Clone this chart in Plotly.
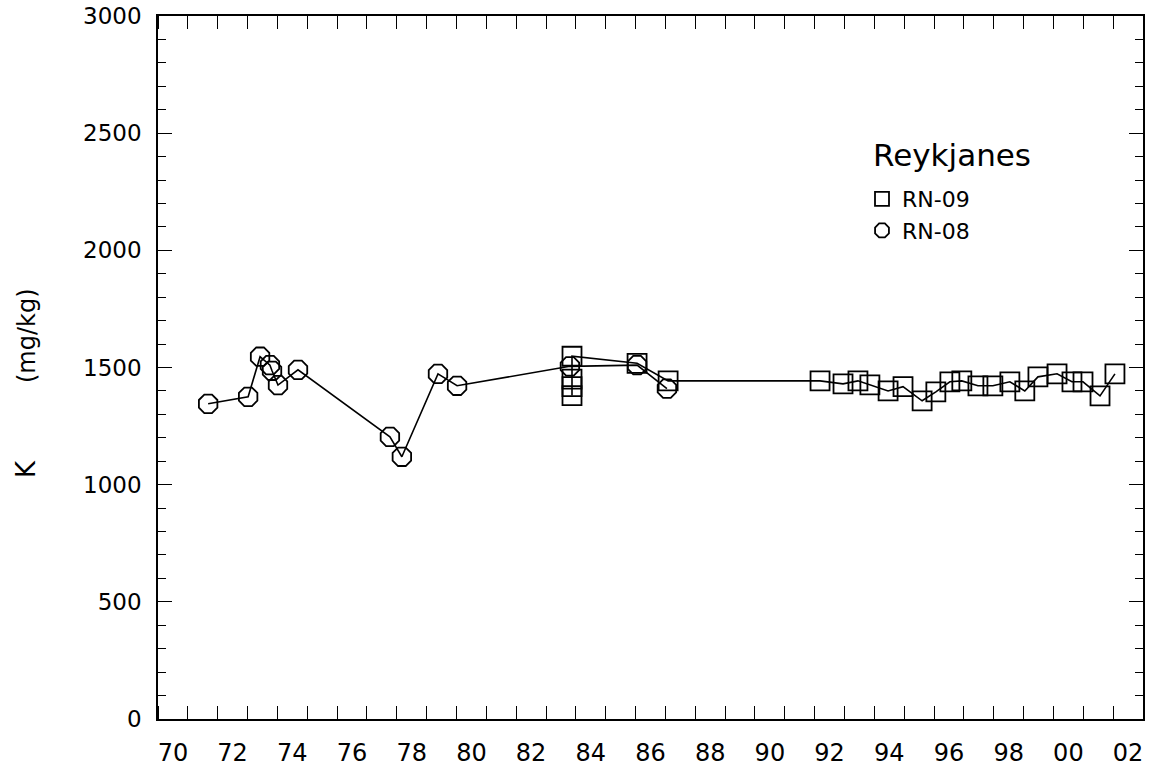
import plotly.graph_objects as go

# RN-08 (circles): decimal year (years since 1900), K mg/kg
rn08_year = [71.18, 72.52, 72.92, 73.25, 73.32, 73.52, 74.19, 77.27, 77.67, 78.88, 79.52,
             83.30, 85.55, 86.55]
rn08_k = [1345, 1375, 1546, 1510, 1486, 1425, 1490, 1204, 1119, 1473, 1422,
          1505, 1510, 1410]

# RN-09 (squares)
rn09_year = [83.37, 83.37, 83.37, 83.37, 85.55, 86.59, 91.68, 92.45, 92.95, 93.35, 93.96,
             94.46, 95.10, 95.56, 96.03, 96.43, 96.97, 97.47, 98.04, 98.54, 98.98,
             99.62, 100.12, 100.49, 101.06, 101.56]
rn09_k = [1380, 1418, 1450, 1548, 1518, 1443, 1443, 1430, 1443, 1426, 1400,
          1418, 1358, 1396, 1439, 1443, 1422, 1422, 1439, 1400, 1460,
          1473, 1439, 1439, 1379, 1473]

x_tick_vals = list(range(70, 103, 2))
x_tick_text = ["70", "72", "74", "76", "78", "80", "82", "84", "86", "88", "90",
               "92", "94", "96", "98", "00", "02"]
y_tick_vals = [0, 500, 1000, 1500, 2000, 2500, 3000]

FONT = "DejaVu Sans"
BLACK = "#000000"
W, H = 1158, 774
ML, MR, MT, MB = 158, 15, 16, 55
PW, PH = W - ML - MR, H - MT - MB


def px_x(p):
    return (p - ML) / PW


def px_y(p):
    return 1 - (p - MT) / PH


fig = go.Figure()

fig.add_trace(go.Scatter(
    x=rn09_year, y=rn09_k, mode="lines+markers", showlegend=False,
    line=dict(color=BLACK, width=1.6),
    marker=dict(symbol="square-open", size=19, color=BLACK, line=dict(width=1.8, color=BLACK)),
))
fig.add_trace(go.Scatter(
    x=rn08_year, y=rn08_k, mode="lines+markers", showlegend=False,
    line=dict(color=BLACK, width=1.6),
    marker=dict(symbol="octagon-open", size=20, color=BLACK, line=dict(width=1.8, color=BLACK)),
))
# legend-only entries
fig.add_trace(go.Scatter(
    x=[None], y=[None], mode="markers", name="RN-09",
    marker=dict(symbol="square-open", size=14, color=BLACK, line=dict(width=1.8, color=BLACK)),
))
fig.add_trace(go.Scatter(
    x=[None], y=[None], mode="markers", name="RN-08",
    marker=dict(symbol="octagon-open", size=15, color=BLACK, line=dict(width=1.8, color=BLACK)),
))

fig.update_layout(
    width=W, height=H,
    margin=dict(l=ML, r=MR, t=MT, b=MB),
    paper_bgcolor="white", plot_bgcolor="white",
    font=dict(family=FONT, color=BLACK, size=22),
    showlegend=True,
    legend=dict(
        x=px_x(862), y=px_y(178), xanchor="left", yanchor="top",
        bgcolor="rgba(0,0,0,0)",
        font=dict(size=22, family=FONT),
        itemwidth=30, tracegroupgap=0,
    ),
    xaxis=dict(
        range=[69.5, 102.5], showgrid=False, zeroline=False, automargin=False,
        showline=True, linecolor=BLACK, linewidth=1.6, mirror="ticks",
        tickmode="array", tickvals=x_tick_vals, ticktext=x_tick_text,
        ticks="", ticklen=0,
        tickfont=dict(size=24, family=FONT),
        ticklabelstandoff=11,
        minor=dict(tickmode="linear", tick0=70.5, dtick=1, ticks="inside",
                   ticklen=13, tickwidth=1.3, tickcolor=BLACK, showgrid=False),
    ),
    yaxis=dict(
        range=[0, 3000], showgrid=False, zeroline=False, automargin=False,
        showline=True, linecolor=BLACK, linewidth=1.6, mirror="ticks",
        tickmode="array", tickvals=y_tick_vals,
        ticks="inside", ticklen=14, tickwidth=1.3, tickcolor=BLACK,
        tickfont=dict(size=23, family=FONT),
        ticklabelstandoff=10,
        minor=dict(tickmode="linear", tick0=0, dtick=100, ticks="inside",
                   ticklen=8, tickwidth=1.2, tickcolor=BLACK, showgrid=False),
    ),
    annotations=[
        dict(
            text="K",
            xref="paper", yref="paper", x=px_x(26), y=px_y(469),
            xanchor="center", yanchor="middle", textangle=-90, showarrow=False,
            font=dict(size=26, family=FONT, color=BLACK),
        ),
        dict(
            text="(mg/kg)",
            xref="paper", yref="paper", x=px_x(27), y=px_y(336),
            xanchor="center", yanchor="middle", textangle=-90, showarrow=False,
            font=dict(size=24, family=FONT, color=BLACK),
        ),
        dict(
            text="Reykjanes",
            xref="paper", yref="paper", x=px_x(871), y=px_y(155),
            xanchor="left", yanchor="middle", showarrow=False,
            font=dict(size=31, family=FONT, color=BLACK),
        ),
    ],
)

fig.write_html("out.html")
